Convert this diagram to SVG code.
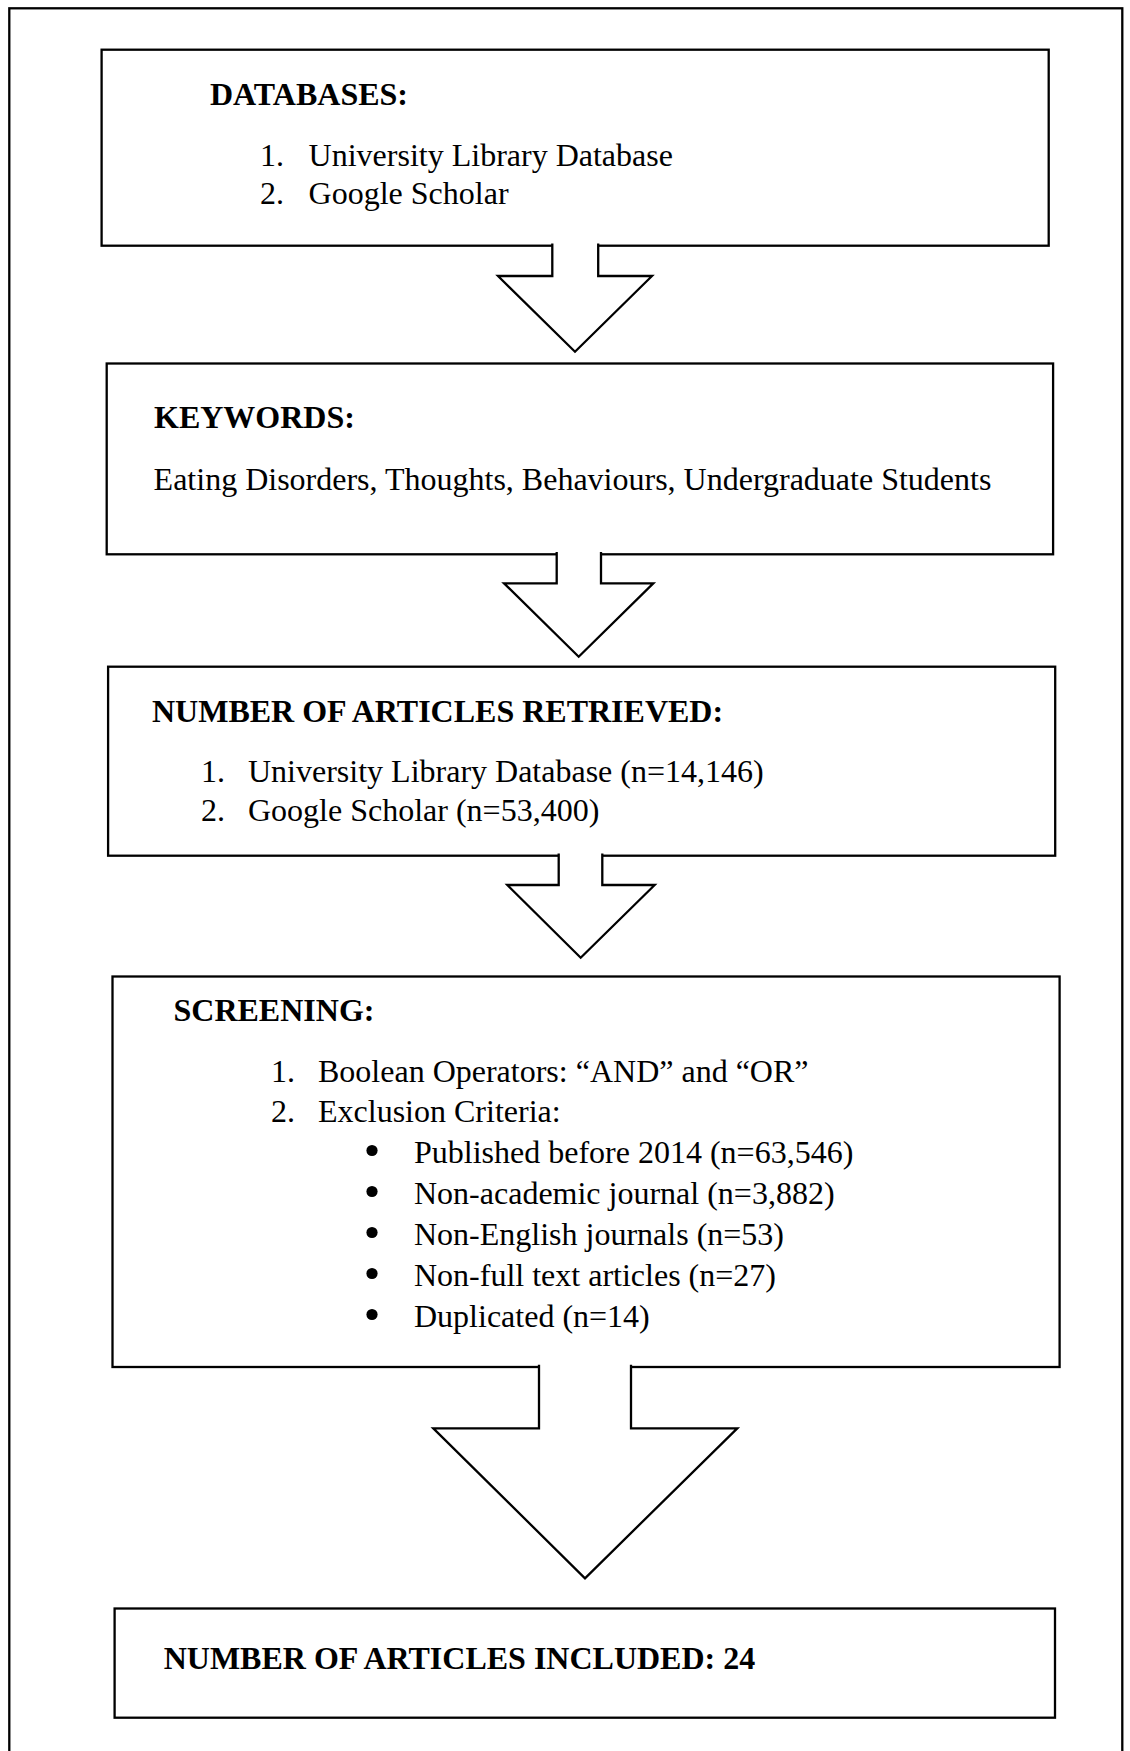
<svg xmlns="http://www.w3.org/2000/svg" width="1130" height="1751" viewBox="0 0 1130 1751">
<style>
.box{fill:#fff;stroke:#000;stroke-width:2.3}
.arr{fill:#fff;stroke:#000;stroke-width:2.3;stroke-linejoin:miter}
.dot{fill:#000}
text{font-family:"Liberation Serif","Times New Roman",serif;font-size:32px;fill:#000}
.h{font-weight:bold}
</style>
<rect width="1130" height="1751" fill="#fff"/>
<rect id="frame" x="9.3" y="8.3" width="1113" height="1760" fill="none" stroke="#000" stroke-width="2.3"/>

<g id="databases">
<rect class="box" x="101.6" y="49.7" width="947.1" height="196"/>
<text class="h" x="210" y="105">DATABASES:</text>
<text x="260" y="166">1.</text><text x="308.6" y="166">University Library Database</text>
<text x="260" y="204">2.</text><text x="308.6" y="204">Google Scholar</text>
</g>

<g id="keywords">
<rect class="box" x="106.7" y="363.5" width="946.4" height="190.8"/>
<text class="h" x="154" y="428">KEYWORDS:</text>
<text x="153.6" y="489.5">Eating Disorders, Thoughts, Behaviours, Undergraduate Students</text>
</g>

<g id="retrieved">
<rect class="box" x="108.1" y="666.7" width="947.1" height="189"/>
<text class="h" x="152" y="721.5">NUMBER OF ARTICLES RETRIEVED:</text>
<text x="201" y="782.3">1.</text><text x="248" y="782.3">University Library Database (n=14,146)</text>
<text x="201" y="821.4">2.</text><text x="248" y="821.4">Google Scholar (n=53,400)</text>
</g>

<g id="screening">
<rect class="box" x="112.5" y="976.5" width="947.1" height="390.5"/>
<text class="h" x="173.5" y="1021">SCREENING:</text>
<text x="271" y="1081.7">1.</text><text x="318" y="1081.7">Boolean Operators: “AND” and “OR”</text>
<text x="271" y="1121.7">2.</text><text x="318" y="1121.7">Exclusion Criteria:</text>
<circle class="dot" cx="372" cy="1150.5" r="5.6"/><text x="414" y="1163">Published before 2014 (n=63,546)</text>
<circle class="dot" cx="372" cy="1191.5" r="5.6"/><text x="414" y="1204">Non-academic journal (n=3,882)</text>
<circle class="dot" cx="372" cy="1232.5" r="5.6"/><text x="414" y="1245">Non-English journals (n=53)</text>
<circle class="dot" cx="372" cy="1273.5" r="5.6"/><text x="414" y="1286">Non-full text articles (n=27)</text>
<circle class="dot" cx="372" cy="1314.5" r="5.6"/><text x="414" y="1327">Duplicated (n=14)</text>
</g>

<g id="included">
<rect class="box" x="114.6" y="1608.5" width="940.4" height="109.2"/>
<text class="h" x="163.7" y="1669">NUMBER OF ARTICLES INCLUDED: 24</text>
</g>

<g id="connectors">
<path class="arr" d="M552.3,243.5 V276 H498 L575,351.7 L652,276 H598.2 V243.5"/>
<path class="arr" d="M556.7,552 V583.3 H504 L578.7,656.7 L653.3,583.3 H601 V552"/>
<path class="arr" d="M558.7,853.5 V885 H507.3 L580.7,957.7 L654.7,885 H602.3 V853.5"/>
<path class="arr" d="M539,1364.8 V1428.3 H433.3 L585,1578.3 L737.3,1428.3 H631 V1364.8"/>
</g>
</svg>
